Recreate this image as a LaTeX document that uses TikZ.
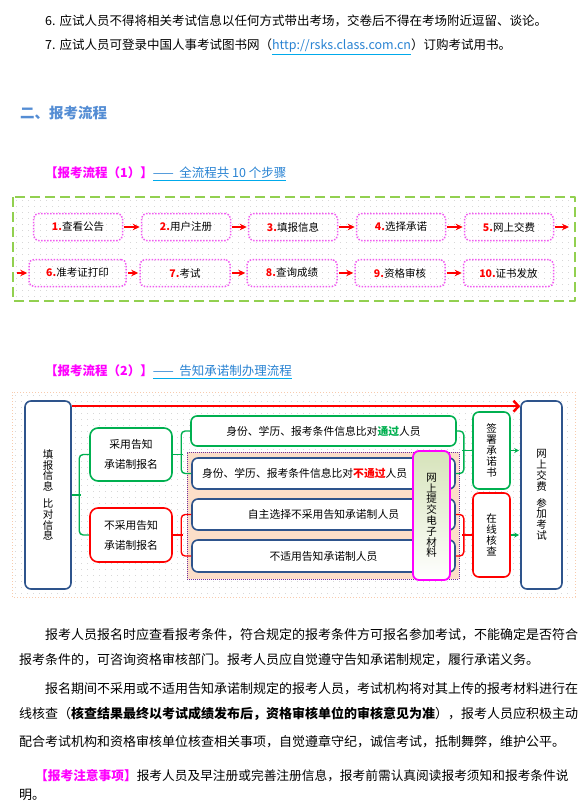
\documentclass[tikz,border=0pt]{standalone}
\usepackage{fontspec}
\setmainfont{Noto Sans CJK SC}
\usetikzlibrary{arrows.meta}
\definecolor{mag}{RGB}{255,0,255}
\definecolor{pinkdot}{RGB}{240,90,240}
\definecolor{lgreen}{RGB}{146,208,80}
\definecolor{navy}{RGB}{46,84,140}
\definecolor{okgreen}{RGB}{0,176,80}
\definecolor{peach}{RGB}{252,222,200}
\definecolor{purp}{RGB}{112,48,160}
\definecolor{linkblue}{RGB}{40,130,210}
\definecolor{ulblue}{RGB}{0,170,235}
\definecolor{headblue}{RGB}{84,141,212}
\definecolor{gridgray}{RGB}{215,215,215}
\definecolor{lorange}{RGB}{248,203,173}
\definecolor{olive}{RGB}{214,227,186}
\newcommand{\lnk}[1]{\textcolor{ulblue}{\underline{\textcolor{linkblue}{#1}}}}
\begin{document}
\begin{tikzpicture}[x=1pt,y=-1pt,line join=round]
				\tikzset{txt/.style={anchor=west,inner sep=0pt,font=\fontsize{13}{13}\selectfont},
					stepbox/.style={draw=pinkdot,line width=1.5pt,dash pattern=on 1.5pt off 1.5pt,rounded corners=5pt,minimum height=27pt,minimum width=89pt,inner sep=0pt,font=\fontsize{10.5}{12}\selectfont},
					redarr/.style={red,line width=1.6pt,-{Stealth[length=7pt,width=6.5pt]},shorten <=1pt,shorten >=1pt},
					garr/.style={okgreen,line width=1.2pt,-{Stealth[length=5pt,width=5pt]},shorten >=1pt},
					griddot/.style={gridgray,line width=0.9pt,dash pattern=on 0.9pt off 5.1pt},
					fbox/.style={line width=1.6pt,rounded corners=6pt,fill=white,inner sep=0pt,font=\fontsize{10.8}{12}\selectfont},
					navybox/.style={fbox,draw=navy},
					greenbox/.style={fbox,draw=okgreen},
					redbox/.style={fbox,draw=red},
					vtxt/.style={align=center,font=\fontsize{10.5}{10.8}\selectfont},
					gline/.style={okgreen,line width=1.4pt,rounded corners=4pt},
					rline/.style={red,line width=1.4pt,rounded corners=4pt}}
				\useasboundingbox (0,0) rectangle (584,804);
				\node[txt,font=\fontsize{12.5}{12.5}\selectfont] (l6) at (45,21) {6.\hspace{4pt}应试人员不得将相关考试信息以任何方式带出考场，交卷后不得在考场附近逗留、谈论。};
				\node[txt,font=\fontsize{12.5}{12.5}\selectfont] (l7) at (45,47) {7.\hspace{4pt}应试人员可登录中国人事考试图书网（\lnk{http://rsks.class.com.cn}）订购考试用书。};
				\node[txt,font=\fontsize{14.5}{14.5}\selectfont\bfseries,text=headblue] (h2) at (20,113) {二、报考流程};
				\node[txt,font=\fontsize{12.5}{12.5}\selectfont] (t1) at (45,174) {\textcolor{mag}{\bfseries【报考流程（1）】}\lnk{——\ \ 全流程共 10 个步骤}};
				\node[txt,font=\fontsize{12.5}{12.5}\selectfont] (t2) at (45,372) {\textcolor{mag}{\bfseries【报考流程（2）】}\lnk{——\ \ 告知承诺制办理流程}};
				\foreach \y in {200,206,...,296}
				\draw[griddot] (16,\y)--(572,\y);
				\draw[lgreen,line width=2pt,dash pattern=on 10pt off 5pt] (13,197) rectangle (575,301);
				\foreach \n/\x/\t in {1/78/查看公告,2/186/用户注册,3/293/填报信息,4/401/选择承诺,5/509/网上交费}
				\node[stepbox] (b\n) at (\x,227) {\textcolor{red}{\bfseries\n.}\t};
				\node[stepbox,minimum width=97pt] (b6) at (77.5,273) {\textcolor{red}{\bfseries6.}准考证打印};
				\foreach \n/\x/\t in {7/185/考试,8/292/查询成绩,9/400/资格审核,10/508.5/证书发放}
				\node[stepbox,minimum width=90pt] (b\n) at (\x,273) {\textcolor{red}{\bfseries\n.}\t};
				\coordinate (e1) at (570,227);
				\coordinate (s2) at (16,273);
				\foreach \a/\b in {1/2,2/3,3/4,4/5,6/7,7/8,8/9,9/10}
				\draw[redarr] (b\a)--(b\b);
				\draw[redarr] (b5)--(e1);
				\draw[redarr] (s2)--(b6);
				\foreach \y in {395,401,...,593}
				\draw[griddot] (15,\y)--(572,\y);
				\draw[lorange,line width=1pt,dash pattern=on 1pt off 2pt] (12,392) rectangle (575,597);
				\node[draw=purp,fill=peach,line width=0.8pt,dash pattern=on 1pt off 1pt,minimum width=272pt,minimum height=127pt,inner sep=0pt] (grp) at (323,515.5) {};
				\node[navybox,vtxt,minimum width=46pt,minimum height=188pt] (info) at (48,495) {填\\报\\信\\息\\[6pt]比\\对\\信\\息};
				\node[navybox,vtxt,minimum width=41pt,minimum height=188pt] (exam) at (541.5,495) {网\\上\\交\\费\\[6pt]参\\加\\考\\试};
				\node[greenbox,align=center,font=\fontsize{10.8}{20}\selectfont,minimum width=82pt,minimum height=53pt,rounded corners=8pt] (yes) at (131,454.5) {采用告知\\承诺制报名};
				\node[redbox,align=center,font=\fontsize{10.8}{20}\selectfont,minimum width=82pt,minimum height=54pt,rounded corners=8pt] (no) at (131,535) {不采用告知\\承诺制报名};
				\node[greenbox,minimum width=265pt,minimum height=30pt] (pass) at (323.5,431) {身份、学历、报考条件信息比对\textcolor{okgreen}{\bfseries 通过}人员};
				\node[navybox,minimum width=263pt,minimum height=31pt,inner xsep=10pt,text width=243pt,align=left] (fail) at (323.5,473.5) {身份、学历、报考条件信息比对\textcolor{red}{\bfseries 不通过}人员};
				\node[navybox,minimum width=263pt,minimum height=31pt] (self) at (323.5,514.5) {自主选择不采用告知承诺制人员};
				\node[navybox,minimum width=263pt,minimum height=32pt] (notapp) at (323.5,556) {不适用告知承诺制人员};
				\node[fbox,vtxt,draw=mag,line width=1.8pt,top color=olive,bottom color=white,minimum width=37pt,minimum height=129pt] (online) at (431.5,515.5) {网\\上\\提\\交\\电\\子\\材\\料};
				\node[greenbox,vtxt,minimum width=37pt,minimum height=77pt] (sign) at (491.5,450.5) {签\\署\\承\\诺\\书};
				\node[redbox,vtxt,minimum width=37pt,minimum height=84pt] (check) at (491.5,535) {在\\线\\核\\查};
				\draw[gline] (info.east)--++(9,0);
				\draw[gline] (yes.west)--++(-10,0)|-(no.west);
				\draw[gline] (yes.east)--++(10,0);
				\draw[gline] (pass.west)--++(-9,0)|-(fail.west);
				\draw[rline] (no.east)--++(10,0);
				\draw[rline] (self.west)--++(-10,0)|-(notapp.west);
				\draw[gline] (pass.east)--++(7,0)|-(fail.east);
				\draw[gline] (sign.west)--++(-10,0);
				\draw[rline] (self.east)--++(8,0)|-(notapp.east);
				\draw[rline] (check.west)--++(-10,0);
				\draw[garr] (sign)--(sign-|exam.west);
				\draw[garr] (check)--(check-|exam.west);
				\coordinate (t0) at ([yshift=-6pt]info.north east);
				\draw[red,line width=2.5pt,-{Straight Barb[length=5pt,width=11pt]}] (t0)--(t0-|exam.west);
				\node[txt] (p1) at (45,635) {报考人员报名时应查看报考条件，符合规定的报考条件方可报名参加考试，不能确定是否符合};
				\node[txt] (p2) at (19,660) {报考条件的，可咨询资格审核部门。报考人员应自觉遵守告知承诺制规定，履行承诺义务。};
				\node[txt] (p3) at (45,689) {报名期间不采用或不适用告知承诺制规定的报考人员，考试机构将对其上传的报考材料进行在};
				\node[txt] (p4) at (19,714) {线核查（\textbf{核查结果最终以考试成绩发布后，资格审核单位的审核意见为准}），报考人员应积极主动};
				\node[txt] (p5) at (19,742) {配合考试机构和资格审核单位核查相关事项，自觉遵章守纪，诚信考试，抵制舞弊，维护公平。};
				\node[txt,font=\fontsize{12.7}{12.7}\selectfont] (p6) at (35,776) {\textcolor{mag}{\bfseries【报考注意事项】}报考人员及早注册或完善注册信息，报考前需认真阅读报考须知和报考条件说};
				\node[txt] (p7) at (19,795) {明。};
			\end{tikzpicture}
\end{document}
